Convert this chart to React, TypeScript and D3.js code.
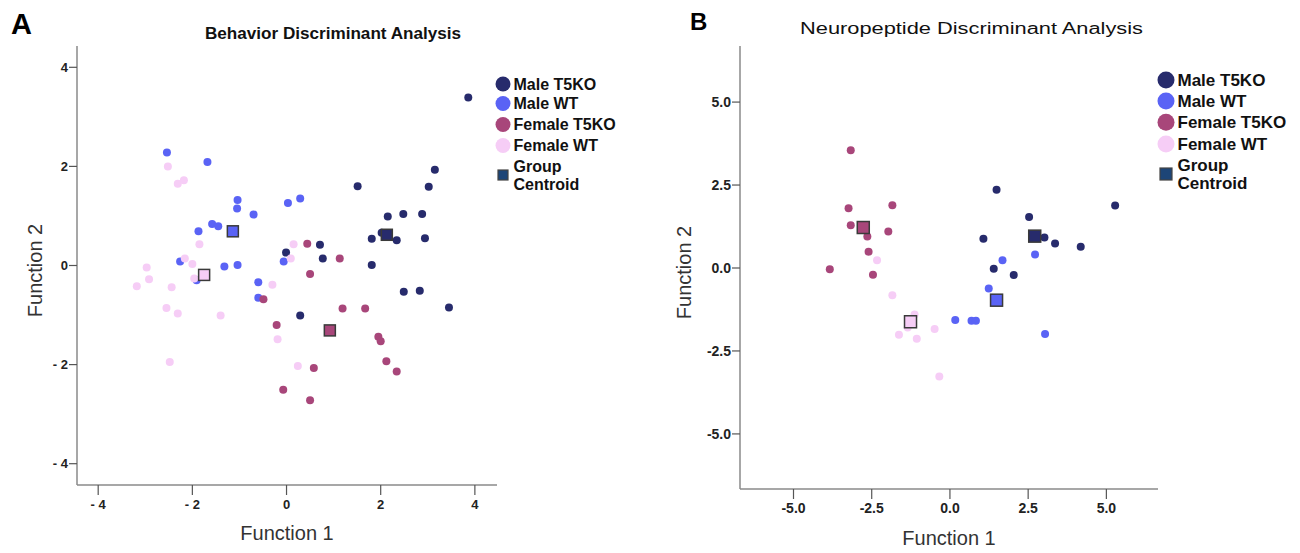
import React from "react";
import * as d3 from "d3";

type P = [number, number];

// ---------- Panel A: Behavior ----------
const behMaleT5KO: P[] = [
  [3.86, 3.39], [3.15, 1.93], [3.02, 1.59], [1.51, 1.6], [2.15, 0.99], [2.48, 1.04], [2.88, 1.04],
  [1.81, 0.54], [2.02, 0.66], [2.34, 0.51], [2.94, 0.55], [0.71, 0.42], [-0.01, 0.26], [0.77, 0.14],
  [1.81, 0.01], [2.49, -0.53], [2.83, -0.51], [3.45, -0.85], [0.29, -1.01],
];
const behMaleWT: P[] = [
  [-2.54, 2.28], [-1.68, 2.09], [-1.04, 1.32], [-1.05, 1.15], [-0.7, 1.03], [-1.58, 0.84], [-1.45, 0.79],
  [-1.87, 0.69], [-2.26, 0.08], [-1.32, -0.02], [-1.04, 0.01], [-1.91, -0.3], [-0.6, -0.34], [-0.6, -0.65],
  [0.03, 1.26], [0.29, 1.35], [-0.06, 0.08],
];
const behFemaleT5KO: P[] = [
  [-0.49, -0.68], [-0.21, -1.2], [0.44, 0.44], [1.13, 0.14], [0.5, -0.17], [1.19, -0.87], [1.67, -0.87],
  [1.95, -1.44], [2.0, -1.53], [2.12, -1.93], [2.34, -2.14], [0.58, -2.07], [-0.07, -2.51], [0.5, -2.72],
];
const behFemaleWT: P[] = [
  [-2.52, 2.0], [-2.31, 1.65], [-2.18, 1.72], [-1.85, 0.43], [-2.16, 0.14], [-2.0, 0.03], [-2.97, -0.04],
  [-3.18, -0.42], [-2.92, -0.28], [-2.44, -0.44], [-2.55, -0.86], [-2.31, -0.97], [-2.48, -1.95],
  [-1.4, -1.01], [-1.96, -0.26], [-0.3, -0.39], [-0.19, -1.49], [0.15, 0.43], [0.09, 0.14], [0.24, -2.03],
];
const behCentroids: P[] = [[2.13, 0.62], [-1.14, 0.69], [0.92, -1.31], [-1.75, -0.19]];
const behTicks = [-4, -2, 0, 2, 4];

// ---------- Panel B: Neuropeptide ----------
const neuMaleT5KO: P[] = [
  [1.49, 2.36], [5.28, 1.88], [2.53, 1.54], [3.02, 0.92], [3.36, 0.74], [4.18, 0.64], [1.07, 0.88],
  [1.4, -0.02], [2.04, -0.21],
];
const neuMaleWT: P[] = [
  [2.72, 0.41], [1.68, 0.23], [1.24, -0.62], [0.17, -1.57], [0.69, -1.59], [0.83, -1.59], [3.04, -1.99],
];
const neuFemaleT5KO: P[] = [
  [-3.17, 3.55], [-3.24, 1.8], [-1.84, 1.89], [-3.17, 1.29], [-1.97, 1.1], [-2.64, 0.95], [-2.6, 0.49],
  [-3.84, -0.04], [-2.46, -0.2],
];
const neuFemaleWT: P[] = [
  [-2.33, 0.23], [-1.84, -0.82], [-1.13, -1.4], [-1.35, -1.79], [-1.63, -2.01], [-1.06, -2.13],
  [-0.49, -1.84], [-0.34, -3.27],
];
const neuCentroids: P[] = [[2.71, 0.96], [1.49, -0.97], [-2.77, 1.22], [-1.26, -1.62]];
const neuTicks = [-5, -2.5, 0, 2.5, 5];

const groupNames = ["Male T5KO", "Male WT", "Female T5KO", "Female WT"];
const groupColors = ["#272b6c", "#5a63f5", "#a8467a", "#f6cdf6"];
const centroidLegendColor = "#1d4577";

const FONT = "'Liberation Sans', Arial, sans-serif";

interface PanelCfg {
  letter: string;
  letterX: number;
  letterY: number;
  letterSize: number;
  title: string;
  titleX: number;
  titleY: number;
  titleLen: number;
  titleBold: boolean;
  titleSize: number;
  xRange: [number, number];
  yRange: [number, number];
  xDomain: [number, number];
  yDomain: [number, number];
  ticks: number[];
  fmt: (d: number) => string;
  yTickSize: number;
  groups: P[][];
  centroids: P[];
  r: number;
  sq: number;
  legendX: number;
  legendYs: number[];
  legendR: number;
  legendFont: number;
  legendSq: number;
  xTitleY: number;
  yTitleX: number;
}

function Panel({ c }: { c: PanelCfg }) {
  const x = d3.scaleLinear().domain(c.xDomain).range(c.xRange);
  const y = d3.scaleLinear().domain(c.yDomain).range(c.yRange);
  const axisColor = "#8a8a8a";
  const [x0, x1] = c.xRange;
  const [yb, yt] = c.yRange;
  const ly = c.legendYs;
  return (
    <g>
      <text x={c.letterX} y={c.letterY} fontSize={c.letterSize} fontWeight="bold" fontFamily={FONT} fill="#000">
        {c.letter}
      </text>
      <text
        x={c.titleX}
        y={c.titleY}
        fontSize={c.titleSize}
        fontWeight={c.titleBold ? "bold" : "normal"}
        fontFamily={FONT}
        fill="#111"
        textLength={c.titleLen}
        lengthAdjust="spacingAndGlyphs"
      >
        {c.title}
      </text>
      {/* axes */}
      <line x1={x0} x2={x0} y1={yt} y2={yb} stroke={axisColor} strokeWidth={1.5} />
      <line x1={x0} x2={x1} y1={yb} y2={yb} stroke={axisColor} strokeWidth={1.5} />
      {c.ticks.map((t) => (
        <g key={"y" + t}>
          <line x1={x0 - 8} x2={x0} y1={y(t)} y2={y(t)} stroke="#555" strokeWidth={1.2} />
          <text
            x={x0 - 9}
            y={y(t) + c.yTickSize * 0.36}
            fontSize={c.yTickSize}
            fontWeight="bold"
            fontFamily={FONT}
            textAnchor="end"
            fill="#222"
          >
            {c.fmt(t)}
          </text>
        </g>
      ))}
      {c.ticks.map((t) => (
        <g key={"x" + t}>
          <line x1={x(t)} x2={x(t)} y1={yb} y2={yb + 10} stroke="#555" strokeWidth={1.2} />
          <text
            x={x(t)}
            y={yb + 24}
            fontSize={c.yTickSize}
            fontFamily={FONT}
            fontWeight="bold"
            textAnchor="middle"
            fill="#222"
          >
            {c.fmt(t)}
          </text>
        </g>
      ))}
      <text
        x={(x0 + x1) / 2}
        y={c.xTitleY}
        fontSize={20}
        fontFamily={FONT}
        textAnchor="middle"
        fill="#333"
      >
        Function 1
      </text>
      <text
        transform={`translate(${c.yTitleX},${(yt + yb) / 2 + 5}) rotate(-90)`}
        fontSize={20}
        fontFamily={FONT}
        textAnchor="middle"
        fill="#333"
      >
        Function 2
      </text>
      {/* points */}
      {c.groups.map((g, gi) =>
        g.map((p, i) => (
          <circle key={gi + "-" + i} cx={x(p[0])} cy={y(p[1])} r={c.r} fill={groupColors[gi]} />
        ))
      )}
      {c.centroids.map((p, i) => (
        <rect
          key={"c" + i}
          x={x(p[0]) - c.sq / 2}
          y={y(p[1]) - c.sq / 2}
          width={c.sq}
          height={c.sq}
          fill={groupColors[i]}
          stroke="#3a3a3a"
          strokeWidth={1.5}
        />
      ))}
      {/* legend */}
      {groupNames.map((n, i) => (
        <g key={n}>
          <circle cx={c.legendX} cy={ly[i]} r={c.legendR} fill={groupColors[i]} />
          <text
            x={c.legendX + c.legendR + 3}
            y={ly[i] + c.legendFont * 0.36}
            fontSize={c.legendFont}
            fontWeight="bold"
            fontFamily={FONT}
            fill="#111"
          >
            {n}
          </text>
        </g>
      ))}
      <rect
        x={c.legendX - c.legendSq / 2}
        y={ly[4] - c.legendSq / 2}
        width={c.legendSq}
        height={c.legendSq}
        fill={centroidLegendColor}
        stroke="#444"
        strokeWidth={1.2}
      />
      <text x={c.legendX + c.legendR + 3} y={ly[4] - 3} fontSize={c.legendFont} fontWeight="bold" fontFamily={FONT} fill="#111">
        Group
      </text>
      <text x={c.legendX + c.legendR + 3} y={ly[4] + 15} fontSize={c.legendFont} fontWeight="bold" fontFamily={FONT} fill="#111">
        Centroid
      </text>
    </g>
  );
}

const fmtA = (d: number) => (d < 0 ? "- " + Math.abs(d) : String(d));
const fmtB = (d: number) => (d < 0 ? "-" + Math.abs(d).toFixed(1) : d.toFixed(1));

export default function App() {
  const cfgA: PanelCfg = {
    letter: "A",
    letterX: 11,
    letterY: 34,
    letterSize: 29,
    title: "Behavior Discriminant Analysis",
    titleX: 205,
    titleY: 39,
    titleLen: 256,
    titleBold: true,
    titleSize: 16,
    xRange: [77, 497],
    yRange: [485, 46],
    xDomain: [-4.45, 4.47],
    yDomain: [-4.43, 4.43],
    ticks: behTicks,
    fmt: fmtA,
    yTickSize: 13,
    groups: [behMaleT5KO, behMaleWT, behFemaleT5KO, behFemaleWT],
    centroids: behCentroids,
    r: 4,
    sq: 11,
    legendX: 503,
    legendYs: [84, 103.5, 124.5, 145.5, 175],
    legendR: 7.5,
    legendFont: 16,
    legendSq: 10,
    xTitleY: 540,
    yTitleX: 42,
  };
  const cfgB: PanelCfg = {
    letter: "B",
    letterX: 690,
    letterY: 30,
    letterSize: 24,
    title: "Neuropeptide Discriminant Analysis",
    titleX: 800,
    titleY: 34,
    titleLen: 343,
    titleBold: false,
    titleSize: 16,
    xRange: [740, 1158],
    yRange: [489, 46],
    xDomain: [-6.71, 6.65],
    yDomain: [-6.66, 6.69],
    ticks: neuTicks,
    fmt: fmtB,
    yTickSize: 14,
    groups: [neuMaleT5KO, neuMaleWT, neuFemaleT5KO, neuFemaleWT],
    centroids: neuCentroids,
    r: 4,
    sq: 12,
    legendX: 1166,
    legendYs: [80, 101, 122.3, 144, 174],
    legendR: 8.5,
    legendFont: 17,
    legendSq: 12,
    xTitleY: 545,
    yTitleX: 691,
  };
  return (
    <svg width={1300} height={553} style={{ position: "absolute", left: 0, top: 0, background: "#fff" }}>
      <rect width={1300} height={553} fill="#fff" />
      <Panel c={cfgA} />
      <Panel c={cfgB} />
    </svg>
  );
}
